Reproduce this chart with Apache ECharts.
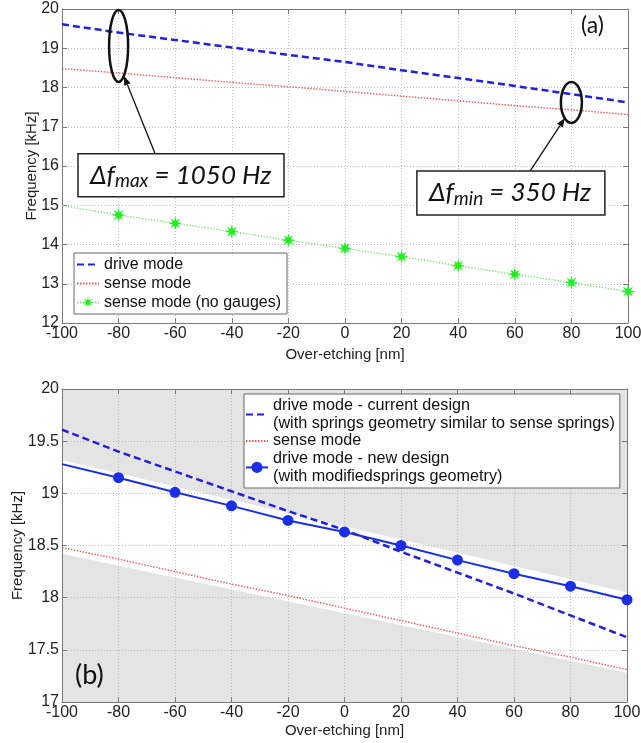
<!DOCTYPE html>
<html><head><meta charset="utf-8">
<script src="https://cdn.jsdelivr.net/npm/echarts@6/dist/echarts.min.js"></script>
<style>html,body{margin:0;padding:0;background:#fff}#c{width:641px;height:743px}</style>
</head><body><div id="c"></div><script>
// ---------- data ----------
const overEtching = [-100, -80, -60, -40, -20, 0, 20, 40, 60, 80, 100];
const driveCurrent = [19.61, 19.40, 19.21, 19.02, 18.83, 18.65, 18.44, 18.24, 18.04, 17.83, 17.62];
const senseMode = [18.48, 18.37, 18.25, 18.13, 18.02, 17.90, 17.78, 17.66, 17.54, 17.43, 17.31];
const senseNoGauges = [14.99, 14.75, 14.54, 14.33, 14.11, 13.90, 13.69, 13.46, 13.24, 13.03, 12.80];
const driveNew = [19.28, 19.15, 19.01, 18.88, 18.74, 18.63, 18.50, 18.36, 18.23, 18.11, 17.98];
const bandX = [-100, 100];
const bandUpper = [19.32, 18.05];
const bandLower = [18.42, 17.28];
const labels = {
  top_drive: 'drive mode',
  top_sense: 'sense mode',
  top_nogauge: 'sense mode (no gauges)',
  bot_drive: 'drive mode - current design\n(with springs geometry similar to sense springs)',
  bot_sense: 'sense mode',
  bot_new: 'drive mode - new design\n(with modifiedsprings geometry)'
};
const xName = 'Over-etching [nm]';
const yName = 'Frequency [kHz]';

// ---------- styles ----------
const FONT = '"Liberation Sans", Arial, sans-serif';
const BLUE = '#2020dd';
const RED = '#ee5a5a';
const GREEN = '#22ee22';
const GRAY_BG = '#e4e4e4';
const pairs = (xs, ys) => ys.map((v, i) => [xs[i], v]);

function asteriskPath() {
  const p = [];
  for (let i = 0; i < 16; i++) {
    const a = Math.PI * i / 8 - Math.PI / 2;
    const r = i % 2 === 0 ? 10 : 4;
    p.push((10 + r * Math.cos(a)).toFixed(2) + ',' + (10 + r * Math.sin(a)).toFixed(2));
  }
  return 'path://M' + p.join('L') + 'Z';
}

function axisCommon(extra) {
  return Object.assign({
    type: 'value', z: 3,
    axisLine: { show: true, onZero: false, lineStyle: { color: '#7a7a7a', width: 1 } },
    axisTick: { show: true, inside: true, length: 5, lineStyle: { color: '#7a7a7a' } },
    axisLabel: { show: false },
    splitLine: { show: false }
  }, extra);
}
function mainX(grid, gap) {
  return axisCommon({
    gridIndex: grid, position: 'bottom', min: -100, max: 100, interval: 20,
    axisLabel: { show: true, margin: 3, fontSize: 16, color: '#222', fontFamily: FONT },
    splitLine: { show: true, lineStyle: { type: [1, 2], color: '#bcbcbc', width: 1 } },
    name: xName, nameLocation: 'middle', nameGap: gap, nameMoveOverlap: false,
    nameTextStyle: { fontSize: 15, color: '#222', fontFamily: FONT }
  });
}
function mainY(grid, min, max, interval, gap) {
  return axisCommon({
    gridIndex: grid, position: 'left', min: min, max: max, interval: interval,
    axisLabel: { show: true, margin: 3, fontSize: 16, color: '#222', fontFamily: FONT },
    splitLine: { show: true, lineStyle: { type: [1, 2], color: '#bcbcbc', width: 1 } },
    name: yName, nameLocation: 'middle', nameGap: gap, nameRotate: 90, nameMoveOverlap: false,
    nameTextStyle: { fontSize: 15, color: '#222', fontFamily: FONT }
  });
}
const hideSym = n => ({ name: n, itemStyle: { opacity: 0, color: 'rgba(0,0,0,0)', borderWidth: 0 } });

const chart = echarts.init(document.getElementById('c'));
chart.setOption({
  animation: false,
  backgroundColor: '#fff',
  grid: [
    { left: 62, top: 9, width: 566, height: 314, outerBoundsMode: 'none', containLabel: false },
    { left: 62, top: 389, width: 565, height: 313, outerBoundsMode: 'none', containLabel: false,
      show: true, backgroundColor: GRAY_BG, borderWidth: 0 }
  ],
  xAxis: [
    mainX(0, 24),
    axisCommon({ gridIndex: 0, position: 'top', min: -100, max: 100, interval: 20 }),
    mainX(1, 21),
    axisCommon({ gridIndex: 1, position: 'top', min: -100, max: 100, interval: 20 })
  ],
  yAxis: [
    mainY(0, 12, 20, 1, 23),
    axisCommon({ gridIndex: 0, position: 'right', min: 12, max: 20, interval: 1 }),
    mainY(1, 17, 20, 0.5, 37),
    axisCommon({ gridIndex: 1, position: 'right', min: 17, max: 20, interval: 0.5 })
  ],
  legend: [
    {
      data: [hideSym('top_drive'), hideSym('top_sense'), 'top_nogauge'], formatter: n => labels[n],
      orient: 'vertical', left: 74, top: 253, padding: [2, 6, 2, 2], itemGap: 0,
      itemWidth: 22, itemHeight: 14, backgroundColor: '#fff', borderColor: '#666', borderWidth: 1,
      selectedMode: false, z: 10,
      textStyle: { fontSize: 16, lineHeight: 19, color: '#111', fontFamily: FONT }
    },
    {
      data: [hideSym('bot_drive'), hideSym('bot_sense'), 'bot_new'], formatter: n => labels[n],
      orient: 'vertical', left: 244, top: 394, padding: [3, 5, 3, 1], itemGap: 0,
      itemWidth: 22, itemHeight: 14, backgroundColor: '#fff', borderColor: '#666', borderWidth: 1,
      selectedMode: false, z: 10,
      textStyle: { fontSize: 16.2, lineHeight: 17.6, color: '#111', fontFamily: FONT }
    }
  ],
  series: [
    // top panel
    { name: 'top_drive', type: 'line', xAxisIndex: 0, yAxisIndex: 0, z: 5, symbol: 'circle', showSymbol: false,
      data: pairs(overEtching, driveCurrent), itemStyle: { color: BLUE },
      lineStyle: { color: BLUE, width: 2.5, type: [7, 4] } },
    { name: 'top_sense', type: 'line', xAxisIndex: 0, yAxisIndex: 0, z: 5, symbol: 'circle', showSymbol: false,
      data: pairs(overEtching, senseMode), itemStyle: { color: RED },
      lineStyle: { color: RED, width: 1.4, type: [1.5, 1.5] } },
    { name: 'top_nogauge', type: 'line', xAxisIndex: 0, yAxisIndex: 0, z: 5,
      symbol: asteriskPath(), symbolSize: 14, showAllSymbol: true,
      data: senseNoGauges.map((v, i) => i === 0 ? { value: [overEtching[i], v], symbol: 'none' } : [overEtching[i], v]),
      itemStyle: { color: GREEN },
      lineStyle: { color: '#8ae28a', width: 1.4, type: [1.5, 1.5] } },
    // bottom panel: tolerance band
    { name: 'band_upper', type: 'line', xAxisIndex: 2, yAxisIndex: 2, z: 1, symbol: 'none', silent: true,
      data: pairs(bandX, bandUpper), lineStyle: { width: 0, opacity: 0 },
      areaStyle: { color: '#ffffff', opacity: 1, origin: 'start' } },
    { name: 'band_lower', type: 'line', xAxisIndex: 2, yAxisIndex: 2, z: 1.5, symbol: 'none', silent: true,
      data: pairs(bandX, bandLower), lineStyle: { width: 0, opacity: 0 },
      areaStyle: { color: GRAY_BG, opacity: 1, origin: 'start' } },
    { name: 'bot_drive', type: 'line', xAxisIndex: 2, yAxisIndex: 2, z: 5, symbol: 'circle', showSymbol: false,
      data: pairs(overEtching, driveCurrent), itemStyle: { color: BLUE },
      lineStyle: { color: BLUE, width: 2.5, type: [7, 4] } },
    { name: 'bot_sense', type: 'line', xAxisIndex: 2, yAxisIndex: 2, z: 5, symbol: 'circle', showSymbol: false,
      data: pairs(overEtching, senseMode), itemStyle: { color: RED },
      lineStyle: { color: RED, width: 1.4, type: [1.5, 1.5] } },
    { name: 'bot_new', type: 'line', xAxisIndex: 2, yAxisIndex: 2, z: 5,
      symbol: 'circle', symbolSize: 11, showAllSymbol: true,
      data: driveNew.map((v, i) => i === 0 ? { value: [overEtching[i], v], symbol: 'none' } : [overEtching[i], v]),
      itemStyle: { color: '#1a2ee6' },
      lineStyle: { color: '#1a2ee6', width: 2 } }
  ]
});

// ---------- annotations (anchored in data space of the top panel) ----------
const ann = {
  ell1: { c: [-80, 19.06], rx: 9.5, ry: 36 },
  ell2: { c: [80, 17.62], rx: 10.5, ry: 20.5 },
  arr1: { from: [-67.1, 16.31], to: [-78.1, 18.29] },
  arr2: { from: [65.4, 15.87], to: [77.7, 17.22] },
  box1: { tl: [-94.35, 16.31], w: 206, h: 43, sub: 'max', rest: ' = 1050 Hz' },
  box2: { tl: [25.4, 15.87], w: 188, h: 44, sub: 'min', rest: ' = 350 Hz' }
};
const P = p => chart.convertToPixel({ gridIndex: 0 }, p);
const ANN_FONT = 'Lato, "Open Sans", sans-serif';
const g = [];
function ellipse(e) {
  const c = P(e.c);
  g.push({ type: 'ellipse', z: 20, shape: { cx: c[0], cy: c[1], rx: e.rx, ry: e.ry },
    style: { fill: 'none', stroke: '#111', lineWidth: 2.5 } });
}
function arrow(a) {
  const s = P(a.from), t = P(a.to);
  const dx = t[0] - s[0], dy = t[1] - s[1], L = Math.hypot(dx, dy);
  const ux = dx / L, uy = dy / L, hl = 9, hw = 3.5;
  const bx = t[0] - ux * hl, by = t[1] - uy * hl;
  g.push({ type: 'line', z: 20, shape: { x1: s[0], y1: s[1], x2: bx, y2: by }, style: { stroke: '#111', lineWidth: 1.3 } });
  g.push({ type: 'polygon', z: 20, shape: { points: [[t[0], t[1]], [bx - uy * hw, by + ux * hw], [bx + uy * hw, by - ux * hw]] }, style: { fill: '#111' } });
}
function box(b) {
  const tl = P(b.tl);
  g.push({ type: 'rect', z: 20, shape: { x: tl[0], y: tl[1], width: b.w, height: b.h },
    style: { fill: '#fff', stroke: '#222', lineWidth: 1.5 } });
  g.push({ type: 'text', z: 21, x: tl[0] + 12, y: tl[1] + b.h / 2,
    style: {
      text: '{d|Δf}{s|' + b.sub + '}{d|' + b.rest + '}',
      verticalAlign: 'middle', align: 'left',
      rich: {
        d: { fontSize: 26, fontStyle: 'italic', fontFamily: ANN_FONT, fill: '#111', lineHeight: 30 },
        s: { fontSize: 19, fontStyle: 'italic', fontFamily: ANN_FONT, fill: '#111', lineHeight: 16, verticalAlign: 'bottom' }
      }
    } });
}
ellipse(ann.ell1); ellipse(ann.ell2);
arrow(ann.arr1); arrow(ann.arr2);
box(ann.box1); box(ann.box2);
g.push({ type: 'text', z: 21, left: 581, top: 14, style: { text: '(a)', fontSize: 23, fontFamily: ANN_FONT, fill: '#111' } });
g.push({ type: 'text', z: 21, left: 75, top: 662, style: { text: '(b)', fontSize: 27, fontFamily: ANN_FONT, fill: '#111' } });
chart.setOption({ graphic: g });
</script></body></html>
